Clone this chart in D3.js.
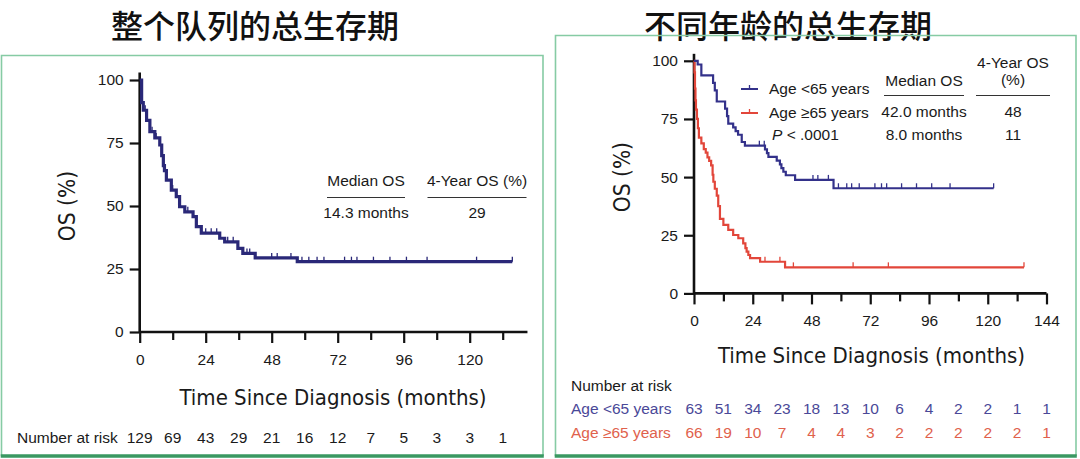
<!DOCTYPE html>
<html>
<head>
<meta charset="utf-8">
<script src="https://cdn.jsdelivr.net/npm/d3@7"></script>
<style>
  html, body { margin: 0; padding: 0; background: #fff; }
  svg { display: block; }
  text { font-family: "Liberation Sans", Arial, Helvetica, sans-serif; fill: #1a1a1a; }
  .title { font-family: "Noto Sans CJK SC", sans-serif; font-size: 32px; font-weight: 500; fill: #111; }
  .axlab { font-family: "DejaVu Sans Condensed", "Liberation Sans", sans-serif; font-stretch: condensed; }
</style>
</head>
<body>
<svg id="chart" width="1080" height="459"></svg>
<script>
// ---------------- DATA ----------------
const titles = ["整个队列的总生存期", "不同年龄的总生存期"];

// Left panel: whole cohort KM steps [month, OS%]
const cohortSteps = [[0,100],[0.7,91],[1.3,88],[2.5,84],[3.7,79.5],[5.5,77],[7.3,74.2],[8,70],[8.6,66],[9,64],[9.7,60.3],[11.5,56.3],[13.3,53.7],[14.5,49.7],[16.4,47.7],[19.4,45.8],[20.6,41.8],[22.4,39.2],[29.1,37.2],[30.9,35.8],[35.7,33.2],[37.5,31.2],[42,29.4],[57.3,27.9]];
const cohortEnd = 135.5;
const cohortCensor = [2,4.5,6,12,17.5,24,26,28,32,34,39,40,48,50,55,59,61.5,64.5,67,74.5,77,79,85,91,97,104.5,122.5,135.5];

// Right panel: by age
const youngSteps = [[0,100],[1.5,98.4],[3,93.7],[7.8,90.5],[8.5,87.3],[9.3,82.5],[12.7,79.4],[13.5,76.2],[14,73],[16,71.4],[17,69.8],[18,68.2],[19.5,65.1],[20.8,63.5],[29,61.9],[29.8,60.3],[30.4,58.7],[33.8,57.1],[35.1,55.5],[35.7,53.9],[36.5,52.3],[37.5,50.8],[41.3,48.8],[57,45.2]];
const youngEnd = 122.4;
const youngCensor = [26.7,28.7,48.6,50.6,54.9,59,62.4,64.4,67.5,73.9,76.6,78.7,84.8,90.9,97.1,104.6,122.4];

const oldSteps = [[0,100],[0.2,95],[0.4,88],[0.6,83],[0.8,79],[1.2,75],[1.6,71],[2,67],[3,64.5],[4,62],[4.8,60.5],[5.5,58.5],[6.2,57],[7,55],[7.6,51],[7.9,48],[8.5,45],[9.3,42],[9.9,37.5],[10.6,32],[12,29.5],[14,27.3],[16,25.1],[18.1,23.7],[20.1,21.5],[21,19.5],[21.5,18],[22.2,16.5],[22.9,15.2],[27,13.6],[37.2,11.2]];
const oldEnd = 134.8;
const oldCensor = [29,35.1,40.6,65,79.4,134.8];

// Axis ticks
const yTicks = [0,25,50,75,100];
const leftXTicks = [0,12,24,36,48,60,72,84,96,108,120,132];
const rightXTicks = [0,12,24,36,48,60,72,84,96,108,120,132,144];

// Risk tables
const riskLeft = [129,69,43,29,21,16,12,7,5,3,3,1];
const riskYoung = [63,51,34,23,18,13,10,6,4,2,2,1,1];
const riskOld = [66,19,10,7,4,4,3,2,2,2,2,2,1];

// Texts
const xLabel = "Time Since Diagnosis (months)";
const yLabel = "OS (%)";
const legendLabels = ["Age <65 years", "Age \u226565 years"];
const leftStats = {head: ["Median OS", "4-Year OS (%)"], row: ["14.3 months", "29"]};
const rightStats = {rows: [["42.0 months", "48"], ["8.0 months", "11"]]};

// Colors
const navyL = "#2a2878", navy = "#33318a", red = "#e2463a";
const riskBlue = "#4a4898", riskRed = "#e0614c";
const boxLight = "#86cba4", boxDark = "#3a9862";

// ---------------- DRAW ----------------
const svg = d3.select("#chart");

function surv(steps, t) {
  let s = 100;
  for (const [m, v] of steps) { if (m <= t) s = v; }
  return s;
}
function stepPath(x, y, steps, end) {
  const pts = [];
  steps.forEach(([m, v], i) => {
    if (i > 0) pts.push([m, steps[i-1][1]]);
    pts.push([m, v]);
  });
  pts.push([end, steps[steps.length-1][1]]);
  return d3.line().x(d => x(d[0])).y(d => y(d[1]))(pts);
}
function drawCurve(g, x, y, steps, end, censor, color, width) {
  g.append("path").attr("d", stepPath(x, y, steps, end))
    .attr("fill", "none").attr("stroke", color).attr("stroke-width", width)
    .attr("stroke-linejoin", "miter");
  g.selectAll(null).data(censor).enter().append("line")
    .attr("x1", d => x(d)).attr("x2", d => x(d))
    .attr("y1", d => y(surv(steps, d))).attr("y2", d => y(surv(steps, d)) - 5)
    .attr("stroke", color).attr("stroke-width", 1.3);
}
function drawAxes(g, x, y, xTicks, xMax, labelEvery) {
  const ya = g.append("g").attr("transform", `translate(${x(0)},0)`)
    .call(d3.axisLeft(y).tickValues(yTicks).tickSize(10).tickSizeOuter(0).tickPadding(6));
  ya.select(".domain").attr("d", `M0,${y(0)}V${y(103)}`);
  const xa = g.append("g").attr("transform", `translate(0,${y(0)})`)
    .call(d3.axisBottom(x).tickValues(xTicks).tickSizeOuter(0).tickSize(11).tickPadding(11)
      .tickFormat(d => d % labelEvery === 0 ? d : ""));
  xa.select(".domain").attr("d", `M${x(0)},0H${x(xMax)}`);
  xa.selectAll(".tick line").attr("y2", d => d % labelEvery === 0 ? 11 : 8);
  [ya, xa].forEach(a => {
    a.select(".domain").attr("stroke", "#111").attr("stroke-width", 2.6);
    a.selectAll(".tick line").attr("stroke", "#111").attr("stroke-width", 2.2);
    a.selectAll(".tick text").attr("font-size", 15.5).attr("fill", "#1a1a1a")
      .attr("font-family", "'Liberation Sans', Arial, sans-serif");
  });
}

// Titles
svg.append("text").attr("class", "title").attr("x", 255).attr("y", 37.5).attr("text-anchor", "middle").text(titles[0]);
svg.append("text").attr("class", "title").attr("x", 788).attr("y", 37.5).attr("text-anchor", "middle").text(titles[1]);

// Boxes
function drawBox(x0, y0, x1, y1) {
  svg.append("path").attr("d", `M${x0},${y1}V${y0}H${x1}V${y1}`)
    .attr("fill", "none").attr("stroke", boxLight).attr("stroke-width", 1.6);
  svg.append("line").attr("x1", x0 - 0.8).attr("x2", x1 + 0.8).attr("y1", y1).attr("y2", y1)
    .attr("stroke", boxDark).attr("stroke-width", 3.5);
}
drawBox(1.5, 55.5, 543, 456);
drawBox(555.5, 35.5, 1076, 456);

// ---------- Left panel ----------
const xL = d3.scaleLinear().domain([0, 141]).range([139.7, 139.7 + 141 * 2.75]);
const yL = d3.scaleLinear().domain([0, 100]).range([332, 80]);
const gL = svg.append("g");
drawAxes(gL, xL, yL, leftXTicks, 141, 24);
drawCurve(gL, xL, yL, cohortSteps, cohortEnd, cohortCensor, navyL, 3.2);

gL.append("text").attr("class", "axlab").attr("x", 333).attr("y", 405).attr("text-anchor", "middle")
  .attr("font-size", 22).text(xLabel);
gL.append("text").attr("class", "axlab").attr("transform", `translate(75,${(yL(0)+yL(100))/2}) rotate(-90)`)
  .attr("text-anchor", "middle").attr("font-size", 22.5).text(yLabel);

// stats table left
const lc = [366, 477], lw = [78, 99];
leftStats.head.forEach((t, i) => {
  gL.append("text").attr("x", lc[i]).attr("y", 186).attr("text-anchor", "middle").attr("font-size", 15.5).text(t);
  gL.append("line").attr("x1", lc[i] - lw[i]/2).attr("x2", lc[i] + lw[i]/2).attr("y1", 197.5).attr("y2", 197.5)
    .attr("stroke", "#333").attr("stroke-width", 1.2);
  gL.append("text").attr("x", lc[i]).attr("y", 218).attr("text-anchor", "middle").attr("font-size", 15.5).text(leftStats.row[i]);
});

// risk left
gL.append("text").attr("x", 17).attr("y", 443).attr("font-size", 15.5).text("Number at risk");
gL.selectAll(null).data(riskLeft).enter().append("text")
  .attr("x", (d, i) => xL(leftXTicks[i])).attr("y", 443).attr("text-anchor", "middle")
  .attr("font-size", 15.5).text(d => d);

// ---------- Right panel ----------
const xR = d3.scaleLinear().domain([0, 144]).range([694, 1046.5]);
const yR = d3.scaleLinear().domain([0, 100]).range([293.4, 60.8]);
const gR = svg.append("g");
drawAxes(gR, xR, yR, rightXTicks, 144, 24);
drawCurve(gR, xR, yR, oldSteps, oldEnd, oldCensor, red, 2.2);
drawCurve(gR, xR, yR, youngSteps, youngEnd, youngCensor, navy, 2.2);

gR.append("text").attr("class", "axlab").attr("x", 871.5).attr("y", 363).attr("text-anchor", "middle")
  .attr("font-size", 22).text(xLabel);
gR.append("text").attr("class", "axlab").attr("transform", `translate(630,${(yR(0)+yR(100))/2}) rotate(-90)`)
  .attr("text-anchor", "middle").attr("font-size", 22.5).text(yLabel);

// legend
const legY = [89, 113], legColors = [navy, red];
legendLabels.forEach((t, i) => {
  gR.append("line").attr("x1", 741).attr("x2", 758).attr("y1", legY[i]).attr("y2", legY[i])
    .attr("stroke", legColors[i]).attr("stroke-width", 2);
  gR.append("line").attr("x1", 749.5).attr("x2", 749.5).attr("y1", legY[i]).attr("y2", legY[i] - 4)
    .attr("stroke", legColors[i]).attr("stroke-width", 1.3);
  gR.append("text").attr("x", 769).attr("y", legY[i] + 5).attr("font-size", 15.5).text(t);
});
const pT = gR.append("text").attr("x", 772).attr("y", 140).attr("font-size", 15.5);
pT.append("tspan").attr("font-style", "italic").text("P");
pT.append("tspan").text(" < .0001");

// stats right
gR.append("text").attr("x", 924).attr("y", 86).attr("text-anchor", "middle").attr("font-size", 15.5).text("Median OS");
gR.append("text").attr("x", 1013).attr("y", 68).attr("text-anchor", "middle").attr("font-size", 15.5).text("4-Year OS");
gR.append("text").attr("x", 1013).attr("y", 85).attr("text-anchor", "middle").attr("font-size", 15.5).text("(%)");
[[884, 964], [976, 1050]].forEach(([a, b]) => {
  gR.append("line").attr("x1", a).attr("x2", b).attr("y1", 95.5).attr("y2", 95.5).attr("stroke", "#333").attr("stroke-width", 1.2);
});
rightStats.rows.forEach((r, i) => {
  const yy = 117 + i * 23;
  gR.append("text").attr("x", 924).attr("y", yy).attr("text-anchor", "middle").attr("font-size", 15.5).text(r[0]);
  gR.append("text").attr("x", 1013).attr("y", yy).attr("text-anchor", "middle").attr("font-size", 15.5).text(r[1]);
});

// risk right
gR.append("text").attr("x", 571).attr("y", 391).attr("font-size", 15.5).text("Number at risk");
[[riskYoung, riskBlue, 414, legendLabels[0]], [riskOld, riskRed, 438, legendLabels[1]]].forEach(([arr, col, yy, lab]) => {
  gR.append("text").attr("x", 571).attr("y", yy).attr("font-size", 15.5).style("fill", col).text(lab);
  gR.selectAll(null).data(arr).enter().append("text")
    .attr("x", (d, i) => xR(rightXTicks[i])).attr("y", yy).attr("text-anchor", "middle")
    .attr("font-size", 15.5).style("fill", col).text(d => d);
});
</script>
</body>
</html>
